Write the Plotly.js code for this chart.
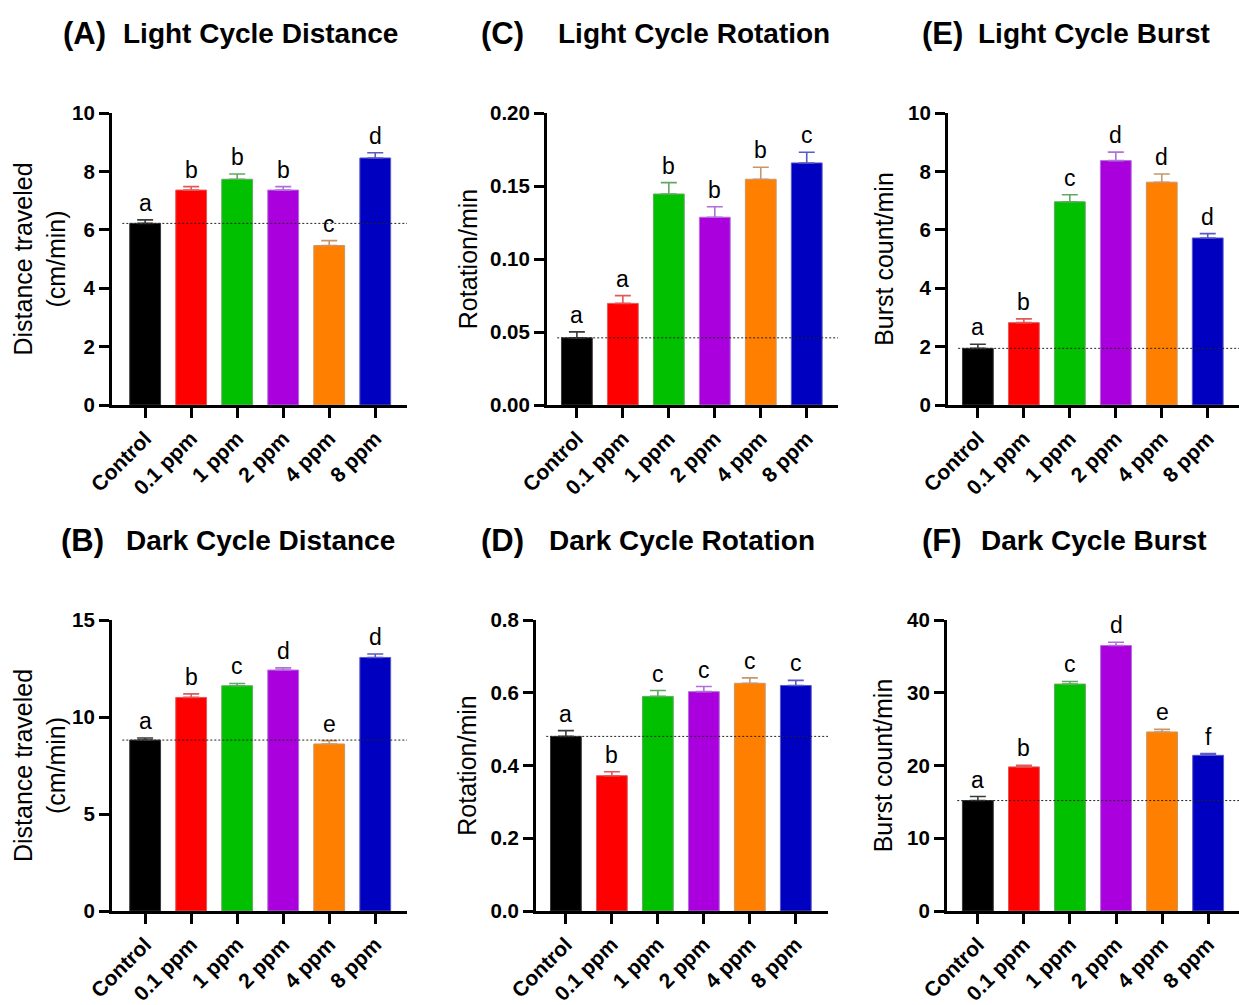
<!DOCTYPE html>
<html>
<head>
<meta charset="utf-8">
<script src="https://cdn.plot.ly/plotly-3.0.1.min.js"></script>
<style>html,body{margin:0;padding:0;background:#fff;}#chart{width:1239px;height:1005px;}</style>
</head>
<body>
<div id="chart"></div>
<script>
// ---- data ----
const categories = ["Control", "0.1 ppm", "1 ppm", "2 ppm", "4 ppm", "8 ppm"];

const lightDistance    = [6.22, 7.36, 7.73, 7.36, 5.46, 8.46];
const lightDistanceSEM = [0.12, 0.12, 0.18, 0.12, 0.17, 0.18];
const lightDistanceLetters = ["a", "b", "b", "b", "c", "d"];

const darkDistance    = [8.81, 11.01, 11.61, 12.42, 8.61, 13.07];
const darkDistanceSEM = [0.11, 0.18, 0.12, 0.11, 0.17, 0.18];
const darkDistanceLetters = ["a", "b", "c", "d", "e", "d"];

const lightRotation    = [0.046, 0.0696, 0.1445, 0.1286, 0.1546, 0.1658];
const lightRotationSEM = [0.0041, 0.0053, 0.0078, 0.0072, 0.0082, 0.0073];
const lightRotationLetters = ["a", "a", "b", "b", "b", "c"];

const darkRotation    = [0.480, 0.372, 0.590, 0.603, 0.626, 0.620];
const darkRotationSEM = [0.016, 0.011, 0.016, 0.014, 0.015, 0.014];
const darkRotationLetters = ["a", "b", "c", "c", "c", "c"];

const lightBurst    = [1.94, 2.82, 6.96, 8.37, 7.63, 5.72];
const lightBurstSEM = [0.14, 0.13, 0.24, 0.29, 0.28, 0.15];
const lightBurstLetters = ["a", "b", "c", "d", "d", "d"];

const darkBurst    = [15.18, 19.81, 31.19, 36.49, 24.61, 21.40];
const darkBurstSEM = [0.55, 0.22, 0.36, 0.46, 0.36, 0.23];
const darkBurstLetters = ["a", "b", "c", "d", "e", "f"];

// ---- styles ----
const barColors = ["#000000", "#ff0000", "#00c000", "#aa00dd", "#ff8000", "#0000c0"];
const errColors = ["#3a3a3a", "#e05a5a", "#62a862", "#b070d8", "#c8966a", "#5a5ac8"];
const W = 1239, H = 1005;
const FONT = "Liberation Sans, Arial, sans-serif";

const panels = [
  {label: "(A)", title: "Light Cycle Distance", vals: lightDistance, sem: lightDistanceSEM, letters: lightDistanceLetters,
   ytitle: "Distance traveled<br>(cm/min)", yr: [0, 10], dtick: 2, fmt: "d", standoff: 0,
   px: [112, 407], py: [113, 405], xr: [-0.72, 5.69], lx: 61, tx: 121, ty: 33},
  {label: "(C)", title: "Light Cycle Rotation", vals: lightRotation, sem: lightRotationSEM, letters: lightRotationLetters,
   ytitle: "Rotation/min", yr: [0, 0.2], dtick: 0.05, fmt: ".2f", standoff: 6,
   px: [547, 838], py: [113, 405], xr: [-0.65, 5.68], lx: 479, tx: 556, ty: 33},
  {label: "(E)", title: "Light Cycle Burst", vals: lightBurst, sem: lightBurstSEM, letters: lightBurstLetters,
   ytitle: "Burst count/min", yr: [0, 10], dtick: 2, fmt: "d", standoff: 8,
   px: [948, 1239], py: [113, 405], xr: [-0.65, 5.68], lx: 920, tx: 976, ty: 33},
  {label: "(B)", title: "Dark Cycle Distance", vals: darkDistance, sem: darkDistanceSEM, letters: darkDistanceLetters,
   ytitle: "Distance traveled<br>(cm/min)", yr: [0, 15], dtick: 5, fmt: "d", standoff: 0,
   px: [112, 407], py: [620, 911], xr: [-0.72, 5.69], lx: 59, tx: 124, ty: 540},
  {label: "(D)", title: "Dark Cycle Rotation", vals: darkRotation, sem: darkRotationSEM, letters: darkRotationLetters,
   ytitle: "Rotation/min", yr: [0, 0.8], dtick: 0.2, fmt: ".1f", standoff: 7,
   px: [536, 828], py: [620, 911], xr: [-0.65, 5.7], lx: 479, tx: 547, ty: 540},
  {label: "(F)", title: "Dark Cycle Burst", vals: darkBurst, sem: darkBurstSEM, letters: darkBurstLetters,
   ytitle: "Burst count/min", yr: [0, 40], dtick: 10, fmt: "d", standoff: 8,
   px: [947, 1239], py: [620, 911], xr: [-0.67, 5.67], lx: 920, tx: 979, ty: 540}
];

const traces = [];
const layout = {
  width: W, height: H,
  margin: {l: 0, r: 0, t: 0, b: 0},
  paper_bgcolor: "#ffffff", plot_bgcolor: "rgba(0,0,0,0)",
  showlegend: false, barmode: "overlay",
  font: {family: FONT, color: "#000"},
  annotations: [], shapes: []
};

panels.forEach((p, i) => {
  const n = i + 1;
  const xa = n === 1 ? "x" : "x" + n;
  const ya = n === 1 ? "y" : "y" + n;
  const xk = n === 1 ? "xaxis" : "xaxis" + n;
  const yk = n === 1 ? "yaxis" : "yaxis" + n;

  categories.forEach((c, j) => {
    traces.push({
      type: "bar", x: [c], y: [p.vals[j]], width: 0.67,
      xaxis: xa, yaxis: ya,
      marker: {color: barColors[j], line: {color: errColors[j], width: 1}},
      error_y: {type: "data", symmetric: false, array: [p.sem[j]], arrayminus: [0],
                color: errColors[j], thickness: 1.6, width: 8},
      hoverinfo: "x+y"
    });
    layout.annotations.push({
      xref: xa, yref: ya, x: c, y: p.vals[j] + p.sem[j],
      text: p.letters[j], showarrow: false, xanchor: "center", yanchor: "bottom",
      yshift: 2, font: {family: FONT, size: 23, color: "#000"}
    });
  });

  layout[xk] = {
    domain: [p.px[0] / W, p.px[1] / W], anchor: ya,
    type: "category", categoryorder: "array", categoryarray: categories,
    range: p.xr, showline: true, linewidth: 3, linecolor: "#000",
    ticks: "outside", ticklen: 10, tickwidth: 3, tickcolor: "#000",
    tickangle: -45, tickfont: {family: FONT, size: 21, color: "#000", weight: "bold"},
    showgrid: false, zeroline: false, fixedrange: true
  };
  layout[yk] = {
    domain: [1 - p.py[1] / H, 1 - p.py[0] / H], anchor: xa,
    range: p.yr, dtick: p.dtick, tick0: 0, tickformat: p.fmt,
    showline: true, linewidth: 3, linecolor: "#000",
    ticks: "outside", ticklen: 10, tickwidth: 3, tickcolor: "#000",
    tickfont: {family: FONT, size: 20.5, color: "#000", weight: "bold"},
    showgrid: false, zeroline: false, fixedrange: true,
    title: {text: p.ytitle, font: {family: FONT, size: 25, color: "#000"}, standoff: p.standoff}
  };

  // dotted reference line at control mean
  layout.shapes.push({
    type: "line", xref: xa + " domain", yref: ya,
    x0: 0.035, x1: 1, y0: p.vals[0], y1: p.vals[0],
    line: {color: "#222", width: 1, dash: "2px,2px"}, layer: "above"
  });

  // panel titles
  layout.annotations.push({
    xref: "paper", yref: "paper", x: p.lx / W, y: 1 - p.ty / H,
    xanchor: "left", yanchor: "middle", showarrow: false, text: p.label,
    font: {family: FONT, size: 31, color: "#000", weight: "bold"}
  });
  layout.annotations.push({
    xref: "paper", yref: "paper", x: p.tx / W, y: 1 - p.ty / H,
    xanchor: "left", yanchor: "middle", showarrow: false, text: p.title,
    font: {family: FONT, size: 28, color: "#000", weight: "bold"}
  });
});

Plotly.newPlot("chart", traces, layout, {displayModeBar: false, staticPlot: true});
</script>
</body>
</html>
